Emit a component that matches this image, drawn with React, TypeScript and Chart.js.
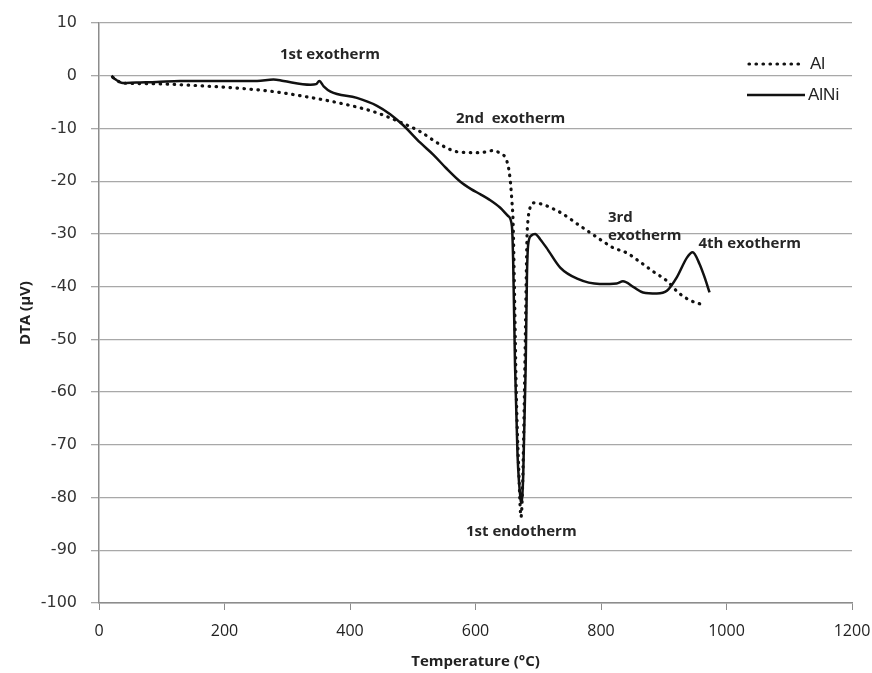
import React, { useEffect, useRef } from "react";
import { Chart, registerables } from "chart.js";

Chart.register(...registerables);

// Al (dotted) series
const alTemp = [22, 38, 81, 145, 225, 277, 331, 384, 437, 480, 512, 543, 575, 607, 628, 639, 650, 655, 658, 660, 662, 665, 669, 672.5, 675, 678, 680, 682, 684, 687, 692, 730, 767, 803, 819, 841, 862, 884, 905, 923, 942, 961];
const alDTA = [-0.3, -1.4, -1.5, -1.8, -2.4, -3.0, -4.0, -5.2, -6.8, -8.8, -10.6, -13.0, -14.5, -14.6, -14.2, -14.7, -16.2, -19.4, -23.8, -28, -40, -60, -75, -83.7, -78, -60, -45, -31, -27, -25, -24.1, -25.6, -28.5, -31.4, -32.6, -33.6, -35.3, -37.2, -38.9, -41.1, -42.6, -43.4];

// AlNi (solid) series
const alniTemp = [20, 25, 38, 59, 92, 129, 198, 252, 278, 294, 337, 346, 351, 358, 369, 411, 443, 464, 484, 512, 533, 553, 575, 593, 608, 622, 639, 652, 658, 660, 663, 667, 672, 673, 676, 680, 682, 684, 689, 695, 703, 713, 735, 762, 798, 825, 835, 852, 867, 889, 905, 921, 937, 946, 957, 965, 973];
const alniDTA = [0, -0.6, -1.4, -1.3, -1.2, -1.0, -1.0, -1.0, -0.7, -1.0, -1.7, -1.6, -1.0, -2.0, -3.0, -4.2, -5.7, -7.3, -9.3, -12.7, -15, -17.5, -20, -21.5, -22.5, -23.5, -25, -26.6, -28.5, -35, -55, -72, -80.5, -81, -76, -55, -38, -32, -30.3, -30, -31, -32.6, -36.4, -38.5, -39.5, -39.4, -39, -40.1, -41.1, -41.3, -40.8, -38.2, -34.5, -33.5, -35.7, -38.2, -41.1];

// Axes
const xMin = 0, xMax = 1200, xStep = 200;
const yMin = -100, yMax = 10, yStep = 10;

// Annotations (data coordinates)
const annText = ["1st exotherm", "2nd  exotherm", "3rd", "exotherm", "4th exotherm", "1st endotherm"];
const annT = [368, 656, 811, 811, 1037, 673];
const annV = [4.0, -8.1, -27.0, -30.4, -31.8, -86.5];
const annAlign: CanvasTextAlign[] = ["center", "center", "left", "left", "center", "center"];

const seriesNames = ["Al", "AlNi"];

export default function App() {
  const ref = useRef<HTMLCanvasElement | null>(null);
  useEffect(() => {
    if (!ref.current) return;
    const annotate = {
      id: "annotate",
      afterDatasetsDraw(chart: any) {
        const ctx = chart.ctx;
        const xs = chart.scales.x, ys = chart.scales.y;
        ctx.save();
        ctx.fillStyle = "#262626";
        ctx.font = "bold 15px 'Open Sans', sans-serif";
        ctx.textBaseline = "middle";
        for (let i = 0; i < annText.length; i++) {
          ctx.textAlign = annAlign[i];
          ctx.fillText(annText[i], xs.getPixelForValue(annT[i]), ys.getPixelForValue(annV[i]));
        }
        // legend
        const r = chart.chartArea.right;
        const t = chart.chartArea.top;
        ctx.lineWidth = 3.2;
        ctx.strokeStyle = "#111";
        ctx.lineCap = "round";
        ctx.setLineDash([0.5, 6.5]);
        ctx.beginPath();
        ctx.moveTo(r - 103, t + 41);
        ctx.lineTo(r - 50, t + 41);
        ctx.stroke();
        ctx.setLineDash([]);
        ctx.lineWidth = 2.5;
        ctx.lineCap = "butt";
        ctx.beginPath();
        ctx.moveTo(r - 105, t + 72);
        ctx.lineTo(r - 47, t + 72);
        ctx.stroke();
        ctx.font = "17px 'Liberation Sans', Arial, sans-serif";
        ctx.fillStyle = "#222";
        ctx.textAlign = "left";
        ctx.fillText(seriesNames[0], r - 42, t + 41);
        ctx.fillText(seriesNames[1], r - 44, t + 72);
        ctx.restore();
      },
    };
    const chart = new Chart(ref.current, {
      type: "line",
      data: {
        datasets: [
          {
            label: seriesNames[0],
            data: alTemp.map((x, i) => ({ x, y: alDTA[i] })),
            borderColor: "#111",
            borderWidth: 3.2,
            borderDash: [0.5, 6.5],
            borderCapStyle: "round",
            pointRadius: 0,
            cubicInterpolationMode: "monotone",
            fill: false,
          },
          {
            label: seriesNames[1],
            data: alniTemp.map((x, i) => ({ x, y: alniDTA[i] })),
            borderColor: "#111",
            borderWidth: 2.5,
            pointRadius: 0,
            cubicInterpolationMode: "monotone",
            fill: false,
          },
        ],
      },
      options: {
        animation: false,
        responsive: false,
        maintainAspectRatio: false,
        layout: { padding: { left: 0, top: 23, right: 20, bottom: 0 } },
        plugins: { legend: { display: false }, tooltip: { enabled: false } },
        scales: {
          x: {
            type: "linear",
            min: xMin,
            max: xMax,
            afterFit: (s: any) => { s.height = 70; s.paddingRight = 0; s.paddingLeft = 0; },
            ticks: {
              stepSize: xStep,
              color: "#222",
              padding: 12,
              font: { family: "'Open Sans', sans-serif", size: 16 },
              callback: (v: any) => String(v),
            },
            grid: { drawOnChartArea: false, drawTicks: true, tickLength: 7, color: "#8c8c8c" },
            border: { display: true, color: "#8c8c8c", width: 1.5 },
            title: {
              display: true,
              text: "Temperature (°C)",
              color: "#222",
              font: { family: "'Open Sans', sans-serif", size: 15, weight: "bold" },
              padding: { top: 0, bottom: 2 },
            },
          },
          y: {
            min: yMin,
            max: yMax,
            afterFit: (s: any) => { s.width = 99; s.paddingTop = 0; s.paddingBottom = 0; },
            ticks: {
              stepSize: yStep,
              color: "#333",
              padding: 14,
              font: { family: "'DejaVu Sans', sans-serif", size: 16 },
            },
            grid: { color: "#a8a8a8", lineWidth: 1.3, tickLength: 8, drawTicks: true },
            border: { display: true, color: "#8c8c8c", width: 1.5 },
            title: {
              display: true,
              text: "DTA (µV)",
              color: "#222",
              font: { family: "'Open Sans', sans-serif", size: 15, weight: "bold" },
              padding: { top: 17, bottom: 0 },
            },
          },
        },
      },
      plugins: [annotate],
    } as any);
    return () => chart.destroy();
  }, []);
  return (
    <div style={{ position: "fixed", left: 0, top: 0, width: 872, height: 673, background: "#fff" }}>
      <canvas ref={ref} width={872} height={673} style={{ display: "block" }} />
    </div>
  );
}
